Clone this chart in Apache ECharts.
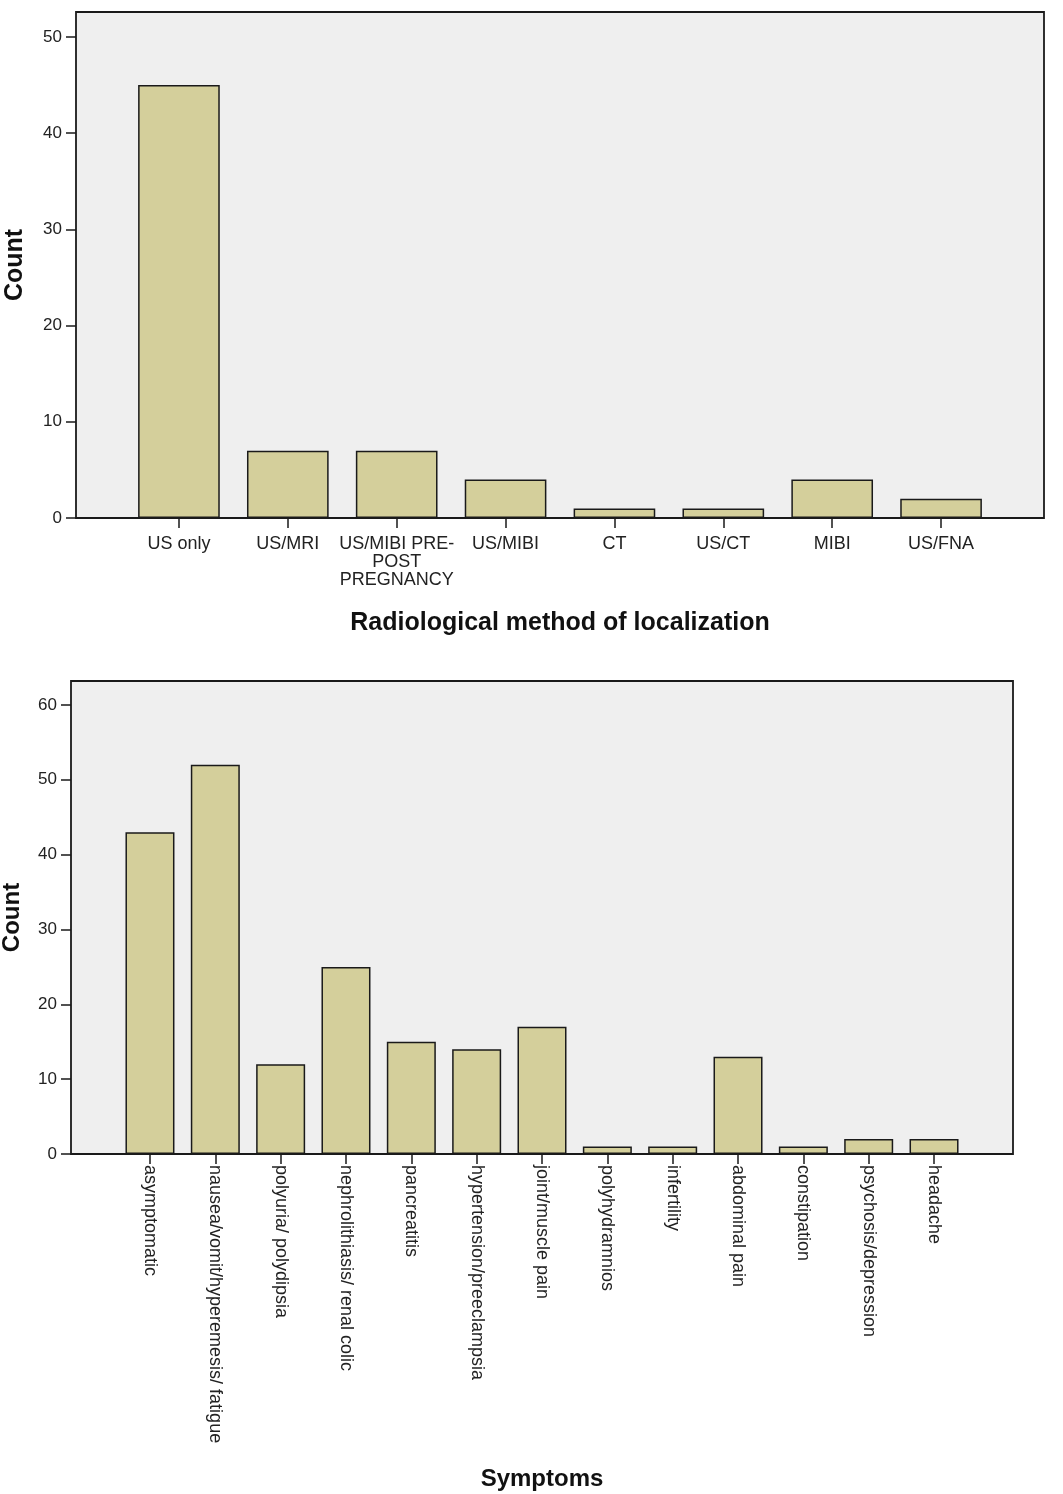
<!DOCTYPE html>
<html>
<head>
<meta charset="utf-8">
<script src="https://cdn.jsdelivr.net/npm/echarts@6/dist/echarts.min.js"></script>
<style>
  html, body { margin: 0; padding: 0; background: #fff; }
  #main { width: 1063px; height: 1494px; }
</style>
</head>
<body>
<div id="main"></div>
<script>
// top chart: radiological method
var methodNames = ['US only', 'US/MRI', 'US/MIBI PRE-\nPOST\nPREGNANCY', 'US/MIBI', 'CT', 'US/CT', 'MIBI', 'US/FNA'];
var methodCounts = [45, 7, 7, 4, 1, 1, 4, 2];
var methodTicks = [0, 10, 20, 30, 40, 50];

// bottom chart: symptoms
var symptomNames = ['asymptomatic', 'nausea/vomit/hyperemesis/ fatigue', 'polyuria/ polydipsia',
  'nephrolithiasis/ renal colic', 'pancreatitis', 'hypertension/preeclampsia', 'joint/muscle pain',
  'polyhydramnios', 'infertility', 'abdominal pain', 'constipation', 'psychosis/depression', 'headache'];
var symptomCounts = [43, 52, 12, 25, 15, 14, 17, 1, 1, 13, 1, 2, 2];
var symptomTicks = [0, 10, 20, 30, 40, 50, 60];

var FONT = 'Liberation Sans, Arial, sans-serif';
var barColor = '#d4cf9b';
var bg = '#efefef';
var ink = '#1a1a1a';

var chart = echarts.init(document.getElementById('main'), null, { renderer: 'canvas' });

var hiddenAxis = { type: 'value', show: false };

function frameGrid(l, r, t, b) {
  return { left: l, right: r, top: t, bottom: b, show: true, backgroundColor: bg,
    borderColor: ink, borderWidth: 1.8, containLabel: false, outerBoundsMode: 'none' };
}

function dataGrid(l, r, t, b) {
  return { left: l, right: r, top: t, bottom: b, containLabel: false, outerBoundsMode: 'none' };
}

function catAxis(grid, names, labelOpt, title, gap, titleSize) {
  return {
    type: 'category', gridIndex: grid, data: names,
    axisLine: { show: false },
    axisTick: { show: true, alignWithLabel: true, length: 10, lineStyle: { color: ink, width: 1.5 } },
    axisLabel: Object.assign({ color: '#222', fontFamily: FONT, fontSize: 18, interval: 0 }, labelOpt),
    name: title, nameLocation: 'middle', nameGap: gap,
    nameTextStyle: { fontFamily: FONT, fontWeight: 'bold', fontSize: titleSize, color: '#111' }
  };
}

function valAxis(grid, max, ticks, off, gap, titleSize) {
  return {
    type: 'value', gridIndex: grid, min: 0, max: max, interval: 10, offset: off,
    splitLine: { show: false },
    axisLine: { show: false },
    axisTick: { show: true, length: 10, customValues: ticks, lineStyle: { color: ink, width: 1.5 } },
    axisLabel: { color: '#222', fontFamily: FONT, fontSize: 17, margin: 14, customValues: ticks },
    name: 'Count', nameLocation: 'middle', nameGap: gap, nameRotate: 90,
    nameTextStyle: { fontFamily: FONT, fontWeight: 'bold', fontSize: titleSize, color: '#111' }
  };
}

var option = {
  animation: false,
  backgroundColor: '#fff',
  grid: [
    frameGrid(76, 19, 12, 976),            // 0 top frame
    dataGrid(124.5, 67.5, 12, 976),        // 1 top data
    frameGrid(71, 50, 681, 340),           // 2 bottom frame
    dataGrid(117.3, 96.3, 681, 340)        // 3 bottom data
  ],
  xAxis: [
    Object.assign({ gridIndex: 0 }, hiddenAxis),
    catAxis(1, methodNames, { margin: 17, lineHeight: 18 }, 'Radiological method of localization', 93, 25),
    Object.assign({ gridIndex: 2 }, hiddenAxis),
    catAxis(3, symptomNames, { rotate: -90, margin: 11 }, 'Symptoms', 313, 24)
  ],
  yAxis: [
    Object.assign({ gridIndex: 0 }, hiddenAxis),
    valAxis(1, 52.6, methodTicks, 48.5, 48, 25),
    Object.assign({ gridIndex: 2 }, hiddenAxis),
    valAxis(3, 63.2, symptomTicks, 46.3, 47, 24)
  ],
  series: [
    {
      type: 'bar', xAxisIndex: 1, yAxisIndex: 1, data: methodCounts, barWidth: '75%',
      itemStyle: { color: barColor, borderColor: ink, borderWidth: 1.5 }
    },
    {
      type: 'bar', xAxisIndex: 3, yAxisIndex: 3, data: symptomCounts, barWidth: '75%',
      itemStyle: { color: barColor, borderColor: ink, borderWidth: 1.5 }
    }
  ]
};

chart.setOption(option);
</script>
</body>
</html>
